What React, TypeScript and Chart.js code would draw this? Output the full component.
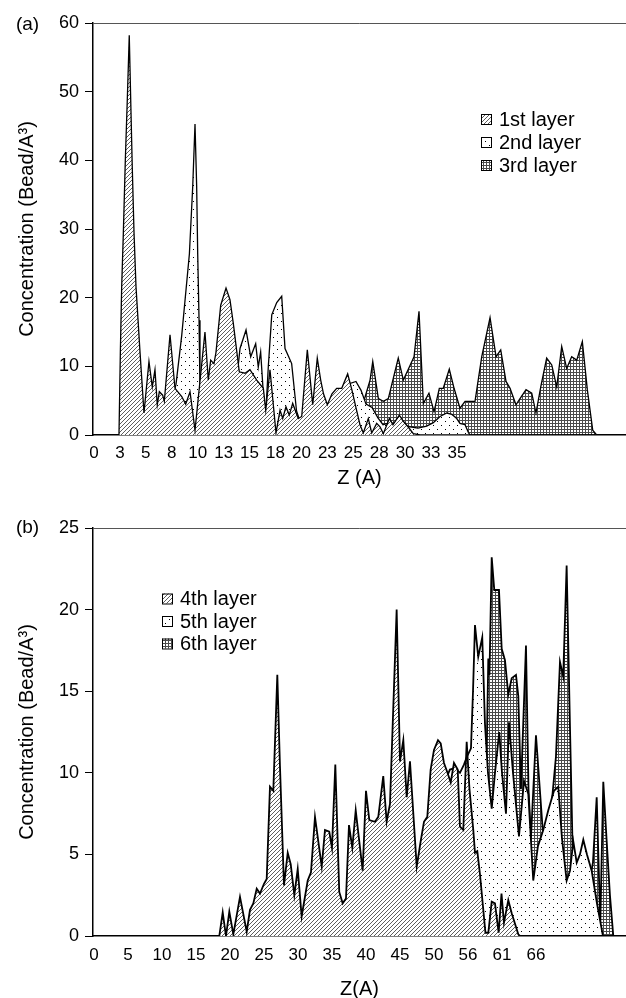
import React, { useEffect, useRef } from 'react';
import { Chart, registerables } from 'chart.js';

Chart.register(...registerables);

const FONT = "'Liberation Sans', Arial, Helvetica, sans-serif";

// ---------- Panel (a) ----------
const topTickLabels = ['0', '3', '5', '8', '10', '13', '15', '18', '20', '23', '25', '28', '30', '33', '35'];
const topLabels = ['1st layer', '2nd layer', '3rd layer'];

// [Z (A), concentration]
const layer1: [number, number][] = [
  [0, 0], [2.41, 0], [2.54, 11.9], [2.67, 21.6], [2.83, 29.4], [3.02, 40], [3.21, 48.8], [3.40, 58.2],
  [3.54, 48.8], [3.69, 39], [3.86, 29.4], [4.05, 21.6], [4.44, 12], [4.82, 3.2], [5.30, 10.7], [5.62, 7.0],
  [5.88, 9.5], [6.10, 4.4], [6.30, 6.3], [6.62, 5.8], [6.78, 4.9], [7.33, 14.6], [7.81, 6.8], [8.46, 5.6],
  [8.84, 4.5], [9.26, 6.3], [9.74, 0.7], [10.70, 15.0], [11.02, 8.0], [11.25, 10.9], [11.57, 10.4],
  [11.76, 12.0], [12.22, 18.9], [12.73, 21.4], [13.11, 19.7], [13.43, 16.3], [14.01, 9.2], [14.56, 9.0],
  [15.04, 9.5], [15.69, 8.0], [16.33, 6.8], [16.56, 3.6], [16.97, 9.5], [17.55, 0.3], [17.94, 3.6],
  [18.20, 2.4], [18.51, 4.1], [18.83, 2.9], [19.16, 4.6], [19.43, 3.5], [19.70, 2.4], [20.03, 2.7],
  [20.57, 12.4], [21.09, 4.4], [21.53, 11.2], [21.86, 8.0], [22.13, 6.0], [22.50, 4.4], [22.95, 6.0],
  [23.40, 6.8], [23.89, 6.8], [24.46, 8.9], [24.88, 6.5], [25.26, 4.0], [25.65, 1.5], [25.97, 0.3],
  [26.45, 2.4], [26.78, 0.3], [27.26, 1.7], [27.58, 1.2], [27.90, 0.2], [28.48, 2.4], [28.83, 1.5],
  [29.44, 2.9], [29.83, 2.0], [30.28, 1.2], [30.79, 0.2], [31.44, 0], [48.5, 0],
];

const layer2: [number, number][] = [
  [0, 0], [4.44, 0], [5.40, 2], [6.85, 3], [7.52, 5], [7.91, 7.4], [8.46, 14.5], [9.20, 26.4], [9.52, 36.2],
  [9.74, 45.3], [9.90, 36.2], [10.00, 26.4], [10.13, 16.7], [10.22, 6.6], [10.70, 4], [11.67, 5], [12.63, 6],
  [13.69, 7], [14.08, 12.6], [14.66, 15.3], [15.11, 11.4], [15.59, 13.3], [15.84, 9.9], [16.07, 12.1],
  [16.33, 6.0], [16.56, 3.0], [16.81, 10], [17.14, 17.5], [17.62, 19.3], [18.10, 20.2], [18.42, 12.6],
  [18.74, 11.5], [19.06, 10.4], [19.53, 3.5], [19.86, 2.0], [20.83, 2.5], [21.79, 3.0], [22.76, 3.5],
  [23.72, 4.5], [24.20, 5.5], [24.69, 7.5], [25.26, 7.8], [25.75, 6.5], [26.23, 4.5], [26.81, 4.0],
  [27.38, 2.5], [27.87, 1.5], [28.54, 1.8], [29.51, 1.5], [30.47, 1.2], [31.24, 1.0], [32.08, 1.3],
  [32.72, 1.8], [33.37, 2.7], [34.01, 3.2], [34.52, 3.0], [34.98, 2.4], [35.29, 1.7], [35.78, 1.5],
  [36.09, 0.4], [36.26, 0], [48.5, 0],
];

const layer3: [number, number][] = [
  [0, 0], [23.72, 0], [24.69, 1], [25.65, 3], [26.23, 6], [26.62, 8], [26.88, 10.7], [27.42, 5.3],
  [27.90, 4.9], [28.38, 5.3], [29.34, 11.2], [29.83, 8.0], [30.86, 11.4], [31.34, 18.0], [31.76, 4.6],
  [32.30, 6.1], [32.79, 3.4], [33.30, 6.8], [33.68, 6.8], [34.26, 9.6], [34.72, 6.8], [35.29, 3.9],
  [35.78, 4.9], [36.74, 4.9], [37.39, 11.4], [38.19, 17.1], [38.77, 11.4], [39.22, 12.4], [39.73, 7.8],
  [40.12, 6.8], [40.69, 4.4], [41.08, 5.3], [41.66, 6.6], [42.21, 6.1], [42.62, 3.2], [43.08, 7.0],
  [43.65, 11.2], [44.14, 10.2], [44.62, 7.0], [45.10, 12.9], [45.58, 9.7], [46.06, 11.4], [46.55, 10.9],
  [47.09, 13.6], [47.57, 6.6], [48.09, 0.7], [48.47, 0],
];

// ---------- Panel (b) ----------
const botTickLabels = ['0', '5', '10', '15', '20', '25', '30', '35', '40', '45', '50', '56', '61', '66'];
const botLabels = ['4th layer', '5th layer', '6th layer'];

const layer4: [number, number][] = [
  [0, 0], [18.43, 0], [18.93, 1.45], [19.41, 0], [19.90, 1.5], [20.49, 0.1], [21.47, 2.4], [22.46, 0.26],
  [22.94, 1.6], [23.43, 2.0], [23.93, 2.9], [24.41, 2.6], [25.00, 3.2], [25.40, 3.5], [25.88, 9.15],
  [26.37, 8.9], [26.96, 16.0], [27.35, 10.4], [27.94, 3.1], [28.49, 5.1], [28.93, 4.4], [29.46, 2.5],
  [29.96, 4.1], [30.54, 1.2], [31.43, 3.4], [31.91, 3.9], [32.50, 7.3], [33.49, 4.25], [33.97, 6.5],
  [34.60, 6.4], [35.00, 5.4], [35.49, 10.5], [36.07, 2.7], [36.57, 2.0], [37.06, 2.3], [37.50, 6.8],
  [37.99, 5.4], [38.49, 7.7], [39.51, 4.0], [40.00, 8.9], [40.49, 7.1], [41.32, 7.0], [41.81, 7.3],
  [42.54, 9.8], [43.04, 7.0], [43.53, 8.1], [44.51, 20.0], [45.00, 10.7], [45.49, 12.0], [45.99, 8.5],
  [46.47, 10.7], [47.46, 4.25], [48.04, 5.8], [48.53, 7.0], [49.02, 7.3], [49.51, 10.2], [50.00, 11.4],
  [50.59, 12.0], [50.99, 11.8], [51.47, 10.6], [51.99, 10.0], [52.46, 9.4], [52.94, 10.6], [53.49, 10.2],
  [53.82, 6.7], [54.31, 6.5], [54.81, 11.9], [55.22, 9.0], [55.78, 6.5], [56.03, 5.1], [56.37, 5.2],
  [56.76, 3.8], [57.57, 0.2], [57.99, 0.2], [58.49, 2.1], [58.97, 2.0], [59.51, 0.2], [59.93, 2.6],
  [60.29, 0.8], [60.93, 2.2], [61.43, 1.4], [62.40, 0.1], [62.65, 0], [76.47, 0],
];

const layer5: [number, number][] = [
  [0, 0], [47.94, 0], [49.41, 2], [50.88, 5], [51.62, 9.5], [52.35, 10.2], [53.09, 10.3], [53.82, 10.0],
  [54.41, 10.5], [54.85, 11.0], [55.44, 11.5], [55.74, 15], [56.03, 19.05], [56.51, 17.1], [57.10, 18.3],
  [57.50, 13.0], [57.94, 10.0], [58.49, 7.8], [58.97, 10.0], [59.60, 12.5], [60.00, 10.0], [60.59, 7.5],
  [61.03, 13.1], [61.62, 10.0], [62.50, 6.1], [63.24, 9.5], [63.87, 8.7], [64.60, 3.4], [65.29, 5.5],
  [66.07, 6.5], [66.81, 7.7], [67.65, 8.9], [68.28, 9.15], [68.82, 6.0], [69.51, 3.4], [70.00, 4.0],
  [70.49, 5.8], [70.99, 4.5], [71.47, 5.0], [71.96, 5.9], [72.50, 5.0], [73.19, 4.0], [73.97, 2.0],
  [74.85, 0], [76.47, 0],
];

const layer6: [number, number][] = [
  [0, 0], [55.29, 0], [57.50, 5], [57.99, 17.0], [58.16, 16.0], [58.49, 23.2], [58.87, 21.2], [59.56, 21.2],
  [59.96, 17.6], [60.44, 16.9], [60.93, 14.8], [61.43, 15.8], [62.06, 16.0], [62.40, 14.7], [62.79, 9.0],
  [63.53, 17.8], [63.90, 9.0], [64.26, 6.0], [65.00, 12.3], [65.99, 6.5], [66.47, 5.5], [67.06, 7.0],
  [67.94, 11.0], [68.53, 16.8], [69.01, 15.9], [69.51, 22.7], [70.00, 12.8], [70.40, 5.1], [70.88, 3.5],
  [72.21, 3.5], [72.94, 3.5], [73.38, 4.5], [73.93, 8.5], [74.46, 0.8], [74.90, 9.45], [75.37, 6.0],
  [75.88, 2.5], [76.37, 0], [76.47, 0],
];

function makePattern(kind: 'hatch' | 'dots' | 'grid'): CanvasPattern {
  const tile = document.createElement('canvas');
  const size = kind === 'hatch' ? 4 : kind === 'dots' ? 8 : 3;
  tile.width = size;
  tile.height = size;
  const c = tile.getContext('2d')!;
  c.fillStyle = '#fff';
  c.fillRect(0, 0, size, size);
  if (kind === 'hatch') {
    c.fillStyle = '#5e5e5e';
    for (let i = 0; i < size; i++) c.fillRect(i, size - 1 - i, 1, 1);
  } else if (kind === 'dots') {
    c.fillStyle = '#000';
    c.fillRect(1, 1, 1, 1);
    c.fillRect(5, 5, 1, 1);
  } else {
    c.fillStyle = '#4a4a4a';
    c.fillRect(0, 0, size, 1);
    c.fillRect(0, 0, 1, size);
  }
  return c.createPattern(tile, 'repeat')!;
}

const decorPlugin = {
  id: 'decor',
  afterDraw(chart: any, _args: any, opts: any) {
    const ctx: CanvasRenderingContext2D = chart.ctx;
    ctx.save();
    ctx.fillStyle = '#000';
    ctx.textBaseline = 'middle';
    ctx.textAlign = 'center';
    ctx.font = `19px ${FONT}`;
    ctx.fillText(opts.panel, opts.panelX, opts.panelY);
    ctx.textAlign = 'left';
    ctx.font = `20px ${FONT}`;
    chart.data.datasets.forEach((ds: any, i: number) => {
      const y = opts.legendY + i * opts.legendGap;
      ctx.fillStyle = ds.backgroundColor;
      ctx.fillRect(opts.legendX, y - 5, 10, 10);
      ctx.strokeStyle = '#000';
      ctx.lineWidth = 1;
      ctx.strokeRect(opts.legendX + 0.5, y - 4.5, 10, 10);
      ctx.fillStyle = '#000';
      ctx.fillText(ds.label, opts.legendX + 18, y + 1);
    });
    ctx.restore();
  },
};

interface PanelSpec {
  series: [number, number][][];
  labels: string[];
  fills: CanvasPattern[];
  lineWidth: number;
  tickLabels: string[];
  tickStep: number;
  xMin: number;
  xMax: number;
  xTitle: string;
  yMax: number;
  yStep: number;
  padTop: number;
  xHeight: number;
  xTickPad: number;
  xTitlePadBottom: number;
  decor: any;
}

function buildConfig(p: PanelSpec): any {
  return {
    type: 'line',
    data: {
      datasets: p.series.map((s, i) => ({
        label: p.labels[i],
        data: s.map(([x, y]) => ({ x, y })),
        backgroundColor: p.fills[i],
        borderColor: '#000',
        borderWidth: p.lineWidth,
        fill: 'origin',
        pointRadius: 0,
        pointHoverRadius: 0,
        tension: 0,
      })),
    },
    options: {
      animation: false,
      responsive: false,
      maintainAspectRatio: false,
      devicePixelRatio: 1,
      events: [],
      layout: { padding: { left: 0, right: 0, top: p.padTop, bottom: 0 } },
      plugins: {
        legend: { display: false },
        tooltip: { enabled: false },
        decor: p.decor,
      },
      scales: {
        x: {
          type: 'linear',
          min: p.xMin,
          max: p.xMax,
          afterBuildTicks: (ax: any) => {
            ax.ticks = p.tickLabels.map((_, i) => ({ value: i * p.tickStep }));
          },
          afterFit: (ax: any) => {
            ax.height = p.xHeight;
          },
          ticks: {
            callback: (_v: any, i: number) => p.tickLabels[i] ?? '',
            autoSkip: false,
            maxRotation: 0,
            minRotation: 0,
            padding: p.xTickPad,
            color: '#000',
            font: { family: FONT, size: 17 },
          },
          grid: { display: false, drawTicks: false },
          border: { display: true, color: '#000', width: 1.5 },
          title: {
            display: true,
            text: p.xTitle,
            color: '#000',
            font: { family: FONT, size: 20 },
            padding: { top: 0, bottom: p.xTitlePadBottom },
          },
        },
        y: {
          min: 0,
          max: p.yMax,
          afterFit: (ax: any) => {
            ax.width = 93;
          },
          ticks: { stepSize: p.yStep, padding: 6, color: '#000', font: { family: FONT, size: 18 } },
          grid: {
            color: (c: any) => (c.tick && c.tick.value === p.yMax ? '#555' : 'rgba(0,0,0,0)'),
            tickColor: '#000',
            tickLength: 8,
            lineWidth: 1,
          },
          border: { display: true, color: '#000', width: 1.5 },
          title: {
            display: true,
            text: 'Concentration (Bead/A³)',
            color: '#000',
            font: { family: FONT, size: 20 },
            padding: { top: 15.5, bottom: 0 },
          },
        },
      },
    },
    plugins: [decorPlugin],
  };
}

export default function App() {
  const topRef = useRef<HTMLCanvasElement>(null);
  const botRef = useRef<HTMLCanvasElement>(null);

  useEffect(() => {
    const hatch = makePattern('hatch');
    const dots = makePattern('dots');
    const grid = makePattern('grid');

    const top = new Chart(
      topRef.current!,
      buildConfig({
        series: [layer1, layer2, layer3],
        labels: topLabels,
        fills: [hatch, dots, grid],
        lineWidth: 1.3,
        tickLabels: topTickLabels,
        tickStep: 2.5,
        xMin: -0.0964,
        xMax: 51.3,
        xTitle: 'Z (A)',
        yMax: 60,
        yStep: 10,
        padTop: 23,
        xHeight: 55,
        xTickPad: 8,
        xTitlePadBottom: 0,
        decor: { panel: '(a)', panelX: 27.5, panelY: 24.7, legendX: 481, legendY: 119, legendGap: 23 },
      })
    );
    const bot = new Chart(
      botRef.current!,
      buildConfig({
        series: [layer4, layer5, layer6],
        labels: botLabels,
        fills: [hatch, dots, grid],
        lineWidth: 1.8,
        tickLabels: botTickLabels,
        tickStep: 5,
        xMin: -0.147,
        xMax: 78.24,
        xTitle: 'Z(A)',
        yMax: 25,
        yStep: 5,
        padTop: 38,
        xHeight: 62,
        xTickPad: 9,
        xTitlePadBottom: -3,
        decor: { panel: '(b)', panelX: 27.5, panelY: 37.5, legendX: 162, legendY: 108.5, legendGap: 22.5 },
      })
    );
    return () => {
      top.destroy();
      bot.destroy();
    };
  }, []);

  return (
    <div style={{ position: 'absolute', left: 0, top: 0, width: 626, height: 998, background: '#fff', overflow: 'hidden' }}>
      <canvas ref={topRef} width={626} height={490} style={{ position: 'absolute', left: 0, top: 0, width: 626, height: 490 }} />
      <canvas ref={botRef} width={626} height={508} style={{ position: 'absolute', left: 0, top: 490, width: 626, height: 508 }} />
    </div>
  );
}
